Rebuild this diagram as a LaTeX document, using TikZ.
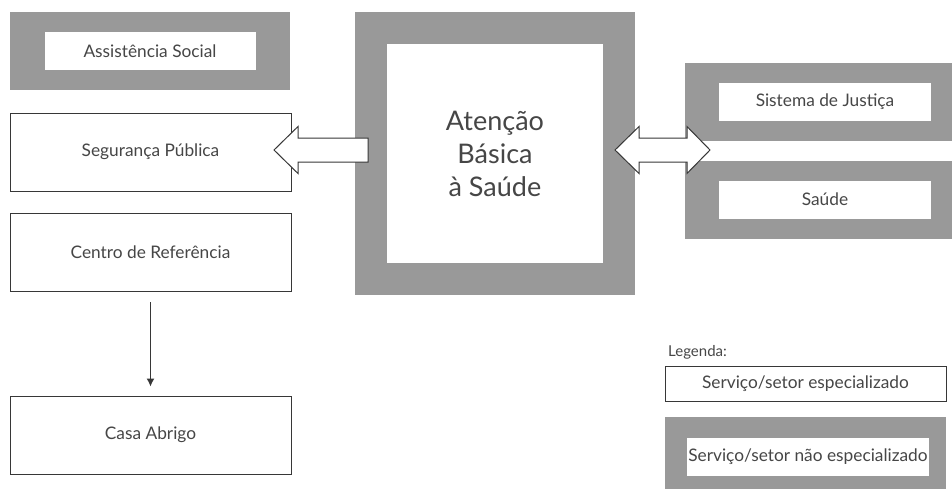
\documentclass[tikz,border=0pt]{standalone}
\usepackage{fontspec}
\setmainfont{Lato}
\usetikzlibrary{arrows.meta}
\definecolor{framegray}{RGB}{153,153,153}
\definecolor{linegray}{RGB}{55,55,55}
\definecolor{textgray}{RGB}{70,70,70}

\begin{document}
\begin{tikzpicture}[x=1pt, y=-1pt,
	box/.style = {draw=linegray, line width=1pt, fill=white, inner sep=0pt, text=textgray, font=\fontsize{17.3}{20}\selectfont},
	frame/.style = {fill=framegray, inner sep=0pt},
	inbox/.style = {fill=white, inner sep=0pt, text=textgray, font=\fontsize{17.3}{20}\selectfont},
	blockarrow/.style = {draw=linegray, line width=1pt, fill=white, line join=miter}]

	\useasboundingbox (0,0) rectangle (952,490);

	% left column
	\node[frame, minimum width=280, minimum height=78] (asF) at (150,51) {};
	\node[inbox, minimum width=211, minimum height=38] (as) at (asF) {Assistência Social};
	\node[box, minimum width=281, minimum height=78] (seg) at (150.5,152) {Segurança Pública};
	\node[box, minimum width=281, minimum height=78] (cr) at (150.5,252.5) {Centro de Referência};
	\node[box, minimum width=281, minimum height=78] (ca) at (150.5,435) {Casa Abrigo};
	\draw[-{Latex[length=8pt,width=8pt]}, draw=linegray, line width=1.2pt, shorten <=10pt, shorten >=9pt] (cr) -- (ca);

	% centre
	\node[frame, minimum width=280, minimum height=283] (abF) at (495,153.5) {};
	\node[inbox, minimum width=216, minimum height=219, align=center, font=\fontsize{27}{33}\selectfont] (ab) at (abF) {Atenção\\Básica\\à Saúde};

	% right column
	\node[frame, minimum width=267, minimum height=78] (sjF) at (818.5,102) {};
	\node[inbox, minimum width=212, minimum height=38] (sj) at (825,102) {Sistema de Justiça};
	\node[frame, minimum width=267, minimum height=78] (saF) at (818.5,200) {};
	\node[inbox, minimum width=212, minimum height=38] (sa) at (825,199.5) {Saúde};

	% block arrows
	\draw[blockarrow] (274,150) -- ++(24,-23.5) -- ++(0,11.5) -- ++(70,0) -- ++(0,24) -- ++(-70,0) -- ++(0,11.5) -- cycle;
	\draw[blockarrow] (615,150) -- ++(24,-23.5) -- ++(0,11.5) -- ++(48,0) -- ++(0,-11.5) -- ++(23,23.5)
		-- ++(-23,23.5) -- ++(0,-11.5) -- ++(-48,0) -- ++(0,11.5) -- cycle;

	% legend
	\node[anchor=west, text=textgray, inner sep=0pt, font=\fontsize{15}{17}\selectfont] (leg) at (668,352) {Legenda:};
	\node[box, minimum width=281, minimum height=35] (spec) at (805.5,383.5) {Serviço/setor especializado};
	\node[frame, minimum width=281, minimum height=72] (nspecF) at (805.5,453) {};
	\node[inbox, minimum width=242, minimum height=38] (nspec) at (808,457) {Serviço/setor não especializado};
\end{tikzpicture}
\end{document}
